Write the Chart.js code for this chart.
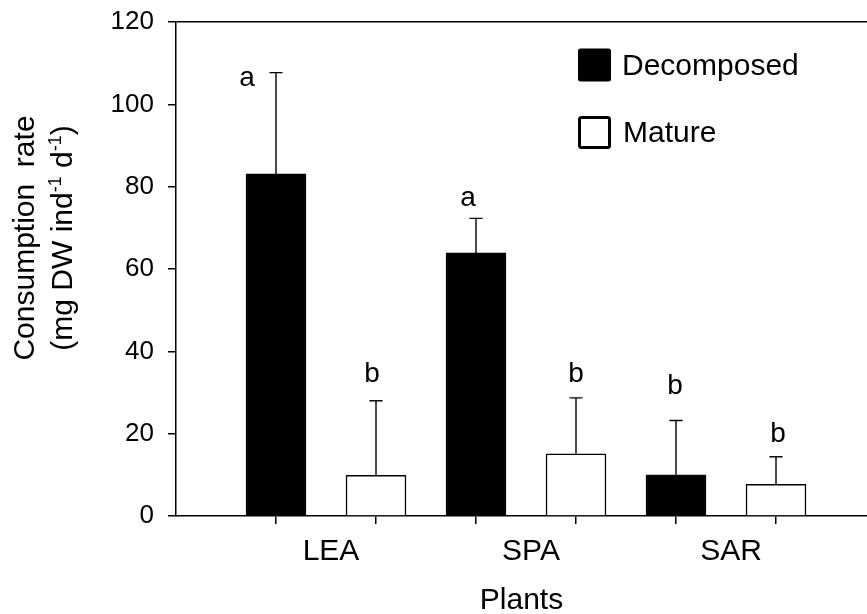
<!DOCTYPE html>
<html>
<head>
<meta charset="utf-8">
<script src="https://cdn.jsdelivr.net/npm/chart.js@4.4.1/dist/chart.umd.min.js"></script>
<style>
  html, body { margin: 0; padding: 0; background: #fff; overflow: hidden; }
  #wrap { width: 867px; height: 614px; }
</style>
</head>
<body>
<div id="wrap"><canvas id="c" width="867" height="614"></canvas></div>
<script>
// ---- data ----
const categories = ['LEA', 'SPA', 'SAR'];
const seriesNames = ['Decomposed', 'Mature'];
const decomposedMean = [83.1, 63.9, 10.0];
const decomposedErr = [24.6, 8.4, 13.2];
const matureMean = [9.9, 15.1, 7.7];
const matureErr = [18.1, 13.6, 6.7];
const decomposedLetters = ['a', 'a', 'b'];
const matureLetters = ['b', 'b', 'b'];
const yTickValues = [0, 20, 40, 60, 80, 100, 120];
const yTitleLine1 = 'Consumption  rate';
const yTitleLine2 = [['(mg DW ind', false], ['-1', true], [' d', false], ['-1', true], [')', false]];
const xTitle = 'Plants';

// ---- derived positions along the linear x scale (bar slots 1..6) ----
const decX = categories.map((c, i) => 2 * i + 1);
const matX = categories.map((c, i) => 2 * i + 2);
const barSlots = decX.concat(matX).sort((a, b) => a - b);

const FONT = "'Liberation Sans', Arial, sans-serif";

// label offsets (style only, px): [dx, dy from error-top to baseline]
const letterOffsets = {
  0: [[-29, 13], [-8, -12], [-1, -26]],
  1: [[-4, -19], [0, -16], [2, -15]]
};

const extras = {
  id: 'extras',
  afterDatasetsDraw(chart) {
    const ctx = chart.ctx;
    const xs = chart.scales.x, ys = chart.scales.y;
    const sets = [
      { x: decX, m: decomposedMean, e: decomposedErr, l: decomposedLetters },
      { x: matX, m: matureMean, e: matureErr, l: matureLetters }
    ];
    ctx.save();
    sets.forEach((s, si) => {
      s.m.forEach((v, i) => {
        const px = xs.getPixelForValue(s.x[i]);
        const yb = ys.getPixelForValue(v);
        const yt = ys.getPixelForValue(v + s.e[i]);
        ctx.strokeStyle = '#000';
        ctx.lineWidth = 1.4;
        ctx.beginPath();
        ctx.moveTo(px, yb);
        ctx.lineTo(px, yt);
        ctx.moveTo(px - 6.5, yt);
        ctx.lineTo(px + 6.5, yt);
        ctx.stroke();
        const off = letterOffsets[si][i];
        ctx.fillStyle = '#000';
        ctx.font = '28px ' + FONT;
        ctx.textAlign = 'center';
        ctx.textBaseline = 'alphabetic';
        ctx.fillText(s.l[i], px + off[0], yt + off[1]);
      });
    });
    ctx.restore();
  },
  afterDraw(chart) {
    const ctx = chart.ctx;
    ctx.save();
    // legend
    ctx.fillStyle = '#000';
    ctx.beginPath();
    ctx.roundRect(578, 48.5, 33, 33, 2.5);
    ctx.fill();
    ctx.strokeStyle = '#000';
    ctx.lineWidth = 3;
    ctx.beginPath();
    ctx.roundRect(579.5, 117.5, 30, 30, 2);
    ctx.stroke();
    ctx.font = '30px ' + FONT;
    ctx.textAlign = 'left';
    ctx.textBaseline = 'middle';
    ctx.fillText(seriesNames[0], 622, 67);
    ctx.fillText(seriesNames[1], 623, 134);

    // y title (rotated, with superscripts)
    ctx.save();
    ctx.translate(34, 238);
    ctx.rotate(-Math.PI / 2);
    ctx.textAlign = 'center';
    ctx.textBaseline = 'alphabetic';
    ctx.font = '30px ' + FONT;
    ctx.fillText(yTitleLine1, 0, 0);
    ctx.restore();

    ctx.save();
    ctx.translate(72, 238);
    ctx.rotate(-Math.PI / 2);
    ctx.textAlign = 'left';
    ctx.textBaseline = 'alphabetic';
    const big = '30px ' + FONT, small = '18px ' + FONT;
    let total = 0;
    yTitleLine2.forEach(([t, sup]) => { ctx.font = sup ? small : big; total += ctx.measureText(t).width; });
    let cx = -total / 2;
    yTitleLine2.forEach(([t, sup]) => {
      ctx.font = sup ? small : big;
      ctx.fillText(t, cx, sup ? -11 : 0);
      cx += ctx.measureText(t).width;
    });
    ctx.restore();
    ctx.restore();
  }
};

new Chart(document.getElementById('c'), {
  type: 'bar',
  data: {
    datasets: [
      {
        label: seriesNames[0],
        data: decomposedMean.map((v, i) => ({ x: decX[i], y: v })),
        backgroundColor: '#000',
        borderColor: '#000',
        borderWidth: 1.5,
        barThickness: 60,
        grouped: false,
        xAxisID: 'x'
      },
      {
        label: seriesNames[1],
        data: matureMean.map((v, i) => ({ x: matX[i], y: v })),
        backgroundColor: '#fff',
        borderColor: '#000',
        borderWidth: 1.5,
        barThickness: 60,
        grouped: false,
        xAxisID: 'x'
      }
    ]
  },
  options: {
    responsive: false,
    animation: false,
    devicePixelRatio: 1,
    layout: { padding: { top: 22, left: 0, right: 0, bottom: 0 } },
    plugins: { legend: { display: false }, tooltip: { enabled: false } },
    scales: {
      x: {
        type: 'linear', position: 'bottom', weight: 0,
        min: 0, max: 6.91, offset: false, bounds: 'data',
        afterBuildTicks: s => { s.ticks = barSlots.map(v => ({ value: v })); },
        ticks: { display: false },
        grid: { offset: false, drawOnChartArea: false, drawTicks: true, tickLength: 8, tickColor: '#000', lineWidth: 1.5 },
        border: { display: true, color: '#000', width: 1.5 }
      },
      x2: {
        type: 'linear', position: 'bottom', weight: 1,
        min: 0, max: 6.91, offset: false, bounds: 'data',
        afterBuildTicks: s => { s.ticks = categories.map((c, i) => ({ value: 2 * i + 1.55 })); },
        ticks: {
          callback: (v, i) => categories[i],
          font: { family: FONT, size: 30 },
          color: '#000', padding: 2, maxRotation: 0, autoSkip: false
        },
        grid: { display: false, offset: false },
        border: { display: false },
        title: { display: true, text: xTitle, color: '#000', font: { family: FONT, size: 30, lineHeight: 1 }, padding: { top: 0, bottom: -2 } },
        afterFit: s => { s.height = 90; s.paddingLeft = 0; s.paddingRight = 0; }
      },
      y: {
        min: 0, max: 120,
        afterBuildTicks: s => { s.ticks = yTickValues.map(v => ({ value: v })); },
        afterFit: s => { s.width = 176; s.paddingTop = 0; s.paddingBottom = 0; },
        ticks: { color: '#000', font: { family: FONT, size: 26 }, padding: 14 },
        grid: {
          drawOnChartArea: true,
          color: c => (c.tick && c.tick.value === 120) ? '#000' : 'rgba(0,0,0,0)',
          tickColor: '#000', tickLength: 8, lineWidth: 1.5
        },
        border: { display: true, color: '#000', width: 1.5 }
      }
    }
  },
  plugins: [extras]
});
</script>
</body>
</html>
